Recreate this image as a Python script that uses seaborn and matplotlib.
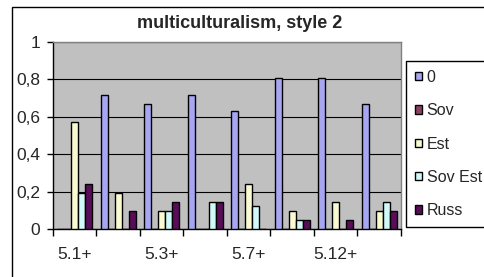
import pandas as pd
import matplotlib.pyplot as plt
import seaborn as sns
from matplotlib.patches import Rectangle

# data
categories = ['5.1+', '5.2+', '5.3+', '5.5+', '5.7+', '5.9+', '5.12+', '5.14+']
shown_labels = ['5.1+', '', '5.3+', '', '5.7+', '', '5.12+', '']
groups = ['0', 'Sov', 'Est', 'Sov Est', 'Russ']
v_0 = [0, 0.714, 0.667, 0.714, 0.63, 0.81, 0.81, 0.667]
v_sov = [0, 0, 0, 0, 0, 0, 0, 0]
v_est = [0.571, 0.19, 0.095, 0, 0.238, 0.095, 0.143, 0.095]
v_sovest = [0.19, 0, 0.095, 0.143, 0.125, 0.048, 0, 0.143]
v_russ = [0.238, 0.095, 0.143, 0.143, 0, 0.048, 0.048, 0.095]
colors = ['#9999FF', '#993366', '#FFFFCC', '#CCFFFF', '#660066']

rows = []
for g, vals in zip(groups, [v_0, v_sov, v_est, v_sovest, v_russ]):
    for c, v in zip(categories, vals):
        rows.append({'cat': c, 'group': g, 'value': v})
df = pd.DataFrame(rows)

sns.set_style('white')
plt.rcParams['font.family'] = ['Liberation Sans', 'DejaVu Sans']

fig = plt.figure(figsize=(4.85, 2.77), dpi=100)
ax = fig.add_axes([53/485, 1-229/277, 348/485, 187/277])
ax.set_facecolor('#C0C0C0')

sns.barplot(data=df, x='cat', y='value', hue='group', order=categories,
            hue_order=groups, palette=colors, edgecolor='black', linewidth=1,
            width=0.8, ax=ax, zorder=3)

ax.set_ylim(0, 1)
ax.set_xlim(-0.5, len(categories) - 0.5)
ax.set_yticks([0, 0.2, 0.4, 0.6, 0.8, 1])
ax.set_yticklabels(['0', '0,2', '0,4', '0,6', '0,8', '1'], fontsize=12.5)
ax.yaxis.grid(True, color='black', linewidth=0.8, zorder=1)
ax.set_axisbelow(True)

# ticks on category boundaries, labels in the middle
ax.set_xticks([i - 0.5 for i in range(len(categories) + 1)])
ax.set_xticklabels([])
ax.set_xticks(range(len(categories)), minor=True)
ax.set_xticklabels(shown_labels, minor=True, fontsize=12.5)
ax.tick_params(axis='x', which='major', direction='out', length=5, width=1, color='black', bottom=True)
ax.tick_params(axis='x', which='minor', length=0, pad=13)
ax.tick_params(axis='y', direction='out', length=4, width=1, color='black', left=True, pad=5)

ax.set_xlabel('')
ax.set_ylabel('')
for s in ['top', 'right']:
    ax.spines[s].set_color('#808080')
    ax.spines[s].set_linewidth(1)
for s in ['left', 'bottom']:
    ax.spines[s].set_color('black')
    ax.spines[s].set_linewidth(1)

handles, labels = ax.get_legend_handles_labels()
ax.legend_.remove()
leg = fig.legend(handles, labels, loc='upper left', bbox_to_anchor=(406/485, 1-61/277),
                 bbox_transform=fig.transFigure, fancybox=False, framealpha=1,
                 edgecolor='black', fontsize=11.5, handlelength=0.45, handleheight=0.45,
                 handletextpad=0.3, labelspacing=1.15, borderpad=0.55, borderaxespad=0)
leg.get_frame().set_linewidth(1)

fig.text(240/485, 1-28/277, 'multiculturalism, style 2', ha='center', va='baseline',
         fontsize=13, fontweight='bold')

fig.patches.append(Rectangle((12/485, -0.1), 1.2, 1.1 - 7/277, transform=fig.transFigure,
                             fill=False, edgecolor='black', linewidth=1, clip_on=False))

fig.savefig('out.png', dpi=100)
